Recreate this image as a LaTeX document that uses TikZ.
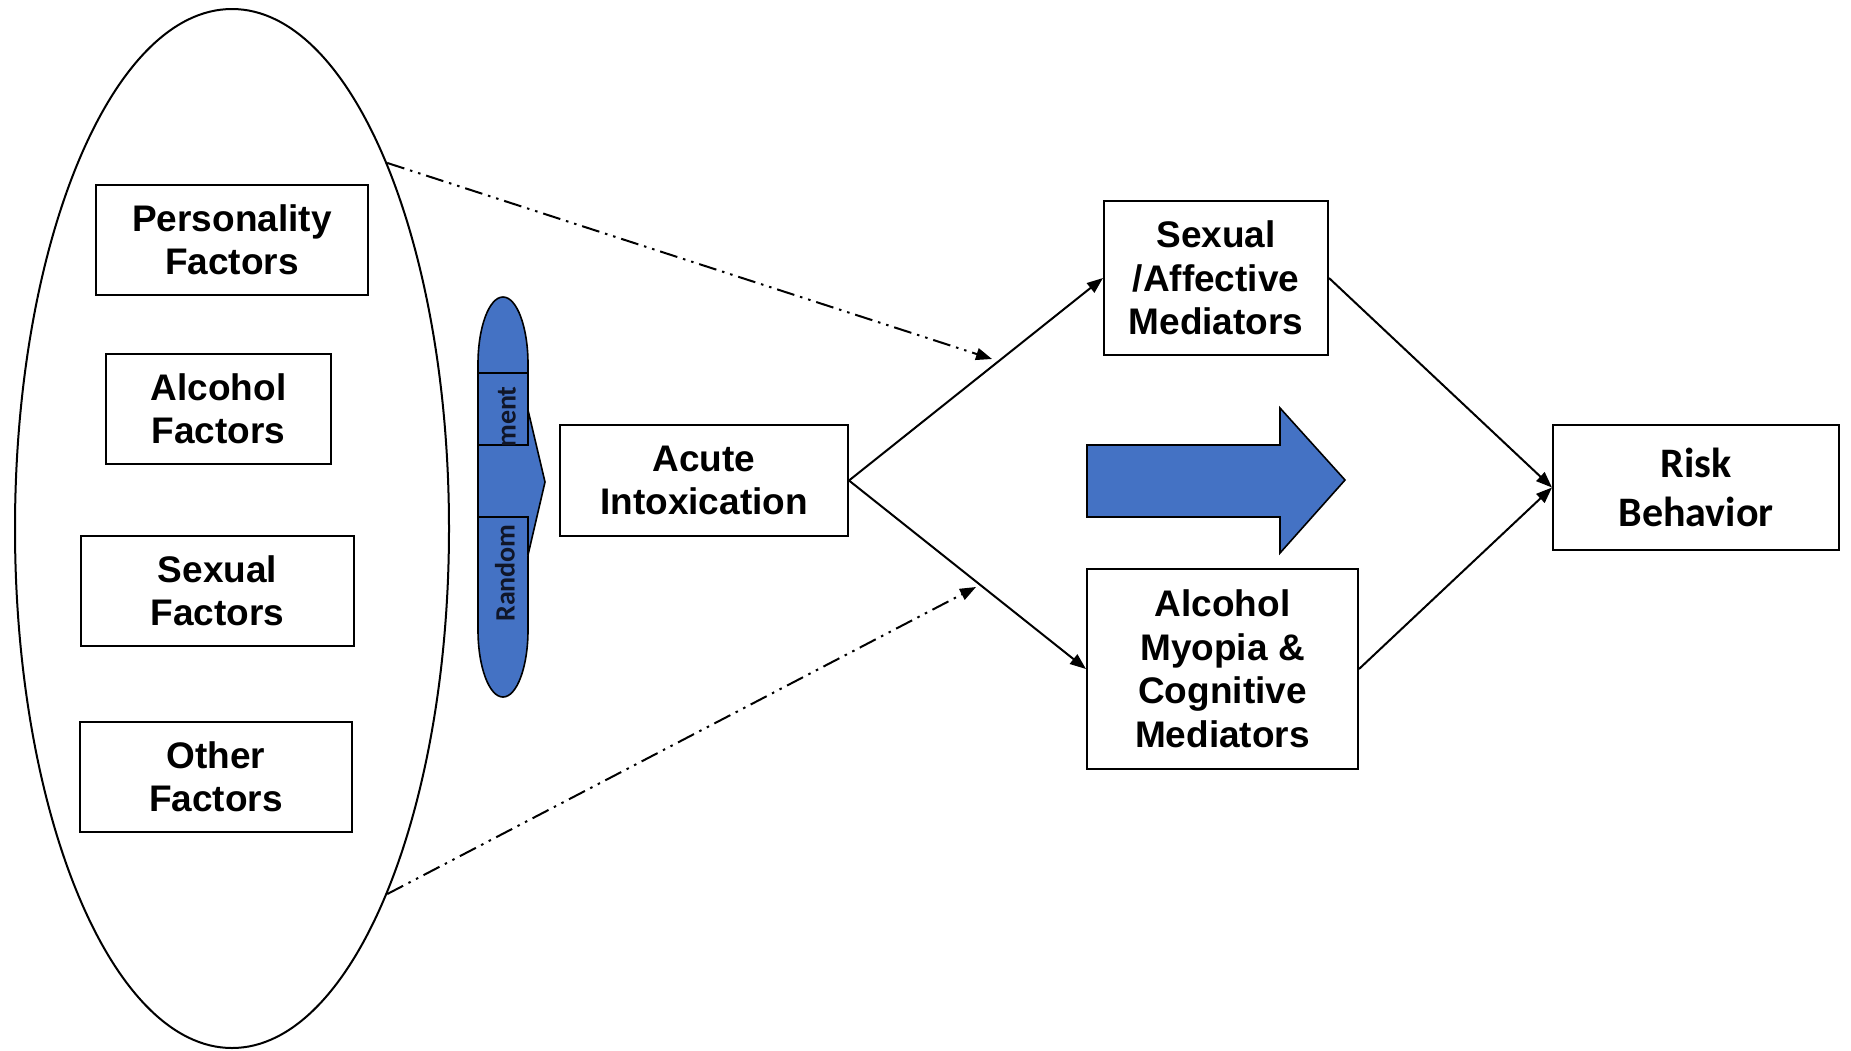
\documentclass[tikz,border=0pt]{standalone}
\usepackage{fontspec}
\setmainfont{Liberation Sans}
\newfontfamily\calfont{Carlito}
\usetikzlibrary{arrows.meta,shapes.geometric}
\definecolor{fillblue}{RGB}{68,114,196}
\definecolor{inktext}{RGB}{16,22,40}
\begin{document}
\begin{tikzpicture}[x=1pt,y=-1pt,
  box/.style={draw, line width=2pt, inner sep=0pt, align=center,
    font=\fontsize{37}{43.5}\selectfont\bfseries},
  calbox/.style={box, font=\calfont\fontsize{42}{49}\selectfont\bfseries},
  link/.style={line width=2pt, -{Triangle[length=16pt,width=12pt]}},
  dashlink/.style={line width=2pt,
    dash pattern=on 18pt off 6pt on 2.5pt off 6pt on 2.5pt off 6pt,
    -{Triangle[length=16pt,width=12pt]}},
  bluefill/.style={fill=fillblue, draw=black, line width=1.6pt},
  sidelabel/.style={rotate=90, inner sep=0pt, text=inktext,
    font=\calfont\fontsize{28}{32}\selectfont\bfseries},
]
\useasboundingbox (0,0) rectangle (1851,1050);

% group of background factors
\node[draw, ellipse, line width=2pt, minimum width=434pt, minimum height=1039pt,
      inner sep=0pt] (grp) at (232,528.5) {};
\node[box, minimum width=272pt, minimum height=110pt] (pers) at (232,240)   {Personality\\Factors};
\node[box, minimum width=225pt, minimum height=110pt] (alc)  at (218.5,409) {Alcohol\\Factors};
\node[box, minimum width=273pt, minimum height=110pt] (sex)  at (217.5,591) {Sexual\\Factors};
\node[box, minimum width=272pt, minimum height=110pt] (oth)  at (216,777)   {Other\\Factors};

% random assignment capsule with chevron
\draw[bluefill] (478,364) -- (478,630)
  arc[start angle=180, end angle=360, x radius=25pt, y radius=67pt]
  -- (528,364)
  arc[start angle=0, end angle=180, x radius=25pt, y radius=67pt] -- cycle;
\fill[fillblue] (520,410) -- (528,410) -- (545,482) -- (528,555) -- (520,555) -- cycle;
\draw[line width=1.6pt, line join=miter] (528,410) -- (545,482) -- (528,555);
\draw[line width=1.6pt] (478,373) rectangle (528,445);
\draw[line width=1.6pt] (478,517) -- (528,517) -- (528,555);
\node[sidelabel] (rmend) at (507,417) {ment};
\node[sidelabel] (rstart) at (505,573) {Random};

% main chain
\node[box, minimum width=288pt, minimum height=111pt] (ac) at (704,480.5) {Acute\\Intoxication};
\node[box, minimum width=224pt, minimum height=154pt] (sa) at (1216,278) {Sexual\\/Affective\\Mediators};
\node[box, minimum width=271pt, minimum height=200pt] (am) at (1222.5,669) {Alcohol\\Myopia \&\\Cognitive\\Mediators};
\node[calbox, minimum width=286pt, minimum height=125pt] (rb) at (1696,487.5) {Risk\\Behavior};

\draw[link] (ac.east) -- (sa.west);
\draw[link] (ac.east) -- (am.west);
\draw[link] (sa.east) -- (rb.west);
\draw[link] (am.east) -- (rb.west);

% moderating paths from the factor group
\coordinate (dtop) at (992,359);
\coordinate (dbot) at (976,587);
\draw[dashlink] (grp.67) -- (dtop);
\draw[dashlink] (grp.-67) -- (dbot);

% broad block arrow between the mediators
\draw[bluefill, line join=miter] (1087,445) -- (1280,445) -- (1280,408) -- (1345,480)
  -- (1280,553) -- (1280,517) -- (1087,517) -- cycle;
\end{tikzpicture}
\end{document}
